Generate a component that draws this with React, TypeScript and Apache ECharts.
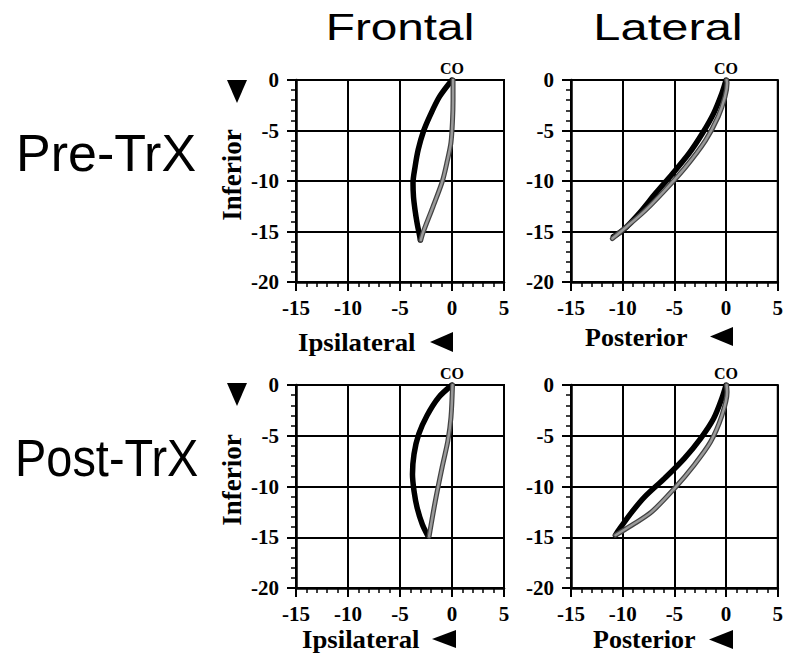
import React, { useEffect, useRef } from "react";
import * as echarts from "echarts";

// ---- Data ----
const xRange = [-15, 5];
const yRange = [-20, 0];
const tickStep = 5;

const preFrontalBlack = [[0, 0], [-1.2, -1.65], [-2.1, -3.5], [-2.75, -5.1], [-3.25, -6.9], [-3.55, -8.6], [-3.75, -10.2], [-3.7, -11.6], [-3.55, -12.9], [-3.35, -14.2], [-3.1, -15.5], [-3.05, -15.85]];
const preFrontalGrey = [[-3.0, -15.85], [-2.75, -15.0], [-1.85, -12.6], [-0.92, -10.0], [-0.45, -8.0], [-0.1, -6.2], [0.05, -4.0], [0.1, -2.0], [0.1, 0]];

const preLateralBlack = [[0, 0], [-0.4, -1.3], [-1.2, -3.3], [-2.3, -5.3], [-3.6, -7.3], [-5.2, -9.3], [-6.8, -11.2], [-8.4, -13.2], [-9.9, -14.8], [-10.9, -15.5]];
const preLateralGrey = [[-11.0, -15.7], [-9.7, -14.6], [-7.8, -12.9], [-5.9, -10.9], [-3.9, -8.6], [-2.0, -6.0], [-0.75, -3.6], [-0.1, -1.65], [0.1, -0.3], [0.05, 0]];

const postFrontalBlack = [[0, 0], [-1.27, -1.2], [-2.4, -3.0], [-3.2, -4.85], [-3.65, -6.8], [-3.8, -8.8], [-3.65, -10.45], [-3.35, -12.1], [-2.85, -13.75], [-2.3, -14.9]];
const postFrontalGrey = [[-2.2, -14.9], [-1.6, -11.4], [-0.95, -8.1], [-0.4, -5.5], [-0.1, -3.2], [0.05, 0]];

const postLateralBlack = [[0, 0], [-0.4, -1.3], [-1.2, -3.3], [-2.45, -5.25], [-4.05, -7.25], [-5.95, -9.2], [-7.85, -11.0], [-9.1, -12.5], [-10.25, -14.1], [-10.7, -14.8]];
const postLateralGrey = [[-10.7, -14.8], [-9.1, -13.8], [-7.2, -12.5], [-5.0, -10.2], [-3.1, -7.9], [-1.5, -5.6], [-0.4, -3.0], [0.1, -0.7], [0.05, 0]];

const originPoint = [[0, 0]];
const originLabel = "CO";

const columnTitles = ["Frontal", "Lateral"];
const rowTitles = ["Pre-TrX", "Post-TrX"];
const yName = "Inferior";
const xNames = ["Ipsilateral", "Posterior"];

const panels = [
  { black: preFrontalBlack, grey: preFrontalGrey },
  { black: preLateralBlack, grey: preLateralGrey },
  { black: postFrontalBlack, grey: postFrontalGrey },
  { black: postLateralBlack, grey: postLateralGrey },
];

// ---- Layout ----
const gridBoxes = [
  { left: 296, top: 80, width: 208, height: 202 },
  { left: 571, top: 80, width: 208, height: 202 },
  { left: 296, top: 385, width: 208, height: 203 },
  { left: 571, top: 385, width: 208, height: 203 },
];

const serif = "Liberation Serif";
const sans = "Liberation Sans";

function axisCommon(labelMargin: number) {
  return {
    type: "value" as const,
    interval: tickStep,
    axisLine: { show: true, onZero: false, lineStyle: { color: "#000", width: 2.5 } },
    axisTick: { show: true, inside: false, length: 9, lineStyle: { color: "#000", width: 2 } },
    minorTick: { show: true, splitNumber: 5, length: 5, lineStyle: { color: "#000", width: 1.5 } },
    splitLine: { show: true, lineStyle: { color: "#000", width: 2 } },
    minorSplitLine: { show: false },
    axisLabel: {
      color: "#000",
      fontFamily: serif,
      fontWeight: "bold" as const,
      fontSize: 21,
      lineHeight: 21,
      margin: labelMargin,
    },
  };
}

function textEl(text: string, x: number, y: number, font: any, extra: any = {}) {
  return {
    type: "text",
    x,
    y,
    ...extra,
    style: {
      text,
      fill: "#000",
      align: font.align || "left",
      textAlign: font.align || "left",
      verticalAlign: "middle",
      textVerticalAlign: "middle",
      fontFamily: font.family,
      fontSize: font.size,
      lineHeight: font.size,
      fontWeight: font.weight || "normal",
    },
  };
}

function tri(points: number[][]) {
  return { type: "polygon", shape: { points }, style: { fill: "#000" } };
}

export default function App() {
  const ref = useRef<HTMLDivElement>(null);

  useEffect(() => {
    if (!ref.current) return;
    const chart = echarts.init(ref.current, null, { renderer: "svg" });

    const series: any[] = [];
    panels.forEach((p, i) => {
      series.push({
        type: "line",
        xAxisIndex: i,
        yAxisIndex: i,
        data: p.black,
        smooth: 0.3,
        showSymbol: false,
        symbol: "none",
        lineStyle: { color: "#000", width: 5.5, cap: "round", join: "round" },
        z: 3,
      });
      series.push({
        type: "line",
        xAxisIndex: i,
        yAxisIndex: i,
        data: p.grey,
        smooth: 0.3,
        showSymbol: false,
        symbol: "none",
        lineStyle: { color: "#444", width: 5, cap: "round", join: "round" },
        z: 4,
      });
      series.push({
        type: "line",
        xAxisIndex: i,
        yAxisIndex: i,
        data: p.grey,
        smooth: 0.3,
        showSymbol: false,
        symbol: "none",
        lineStyle: { color: "#9a9a9a", width: 2.5, cap: "round", join: "round" },
        z: 5,
      });
      series.push({
        type: "scatter",
        xAxisIndex: i,
        yAxisIndex: i,
        data: originPoint,
        symbolSize: 1,
        itemStyle: { opacity: 0 },
        label: {
          show: true,
          position: "top",
          distance: 3,
          formatter: originLabel,
          color: "#000",
          opacity: 1,
          fontFamily: serif,
          fontWeight: "bold",
          fontSize: 16,
        },
        z: 6,
      });
    });

    const titleFont = { family: sans, size: 37, align: "center" };
    const rowFont = { family: sans, size: 52, align: "left" };
    const nameFont = { family: serif, size: 26, weight: "bold", align: "left" };
    const yNameFont = { family: serif, size: 27, weight: "bold", align: "center" };

    const graphic: any[] = [
      textEl(columnTitles[0], 400, 27, titleFont, { scaleX: 1.29 }),
      textEl(columnTitles[1], 668, 27, titleFont, { scaleX: 1.32 }),
      textEl(rowTitles[0], 16, 153, rowFont, {}),
      textEl(rowTitles[1], 15, 458, { ...rowFont, size: 51 }, { scaleX: 0.92 }),
      textEl(yName, 232, 175, yNameFont, { rotation: Math.PI / 2 }),
      textEl(yName, 232, 480, yNameFont, { rotation: Math.PI / 2 }),
      tri([[227, 80], [247, 80], [237, 103]]),
      tri([[227, 383], [247, 383], [237, 406]]),
      textEl(xNames[0], 298, 342, nameFont, { scaleX: 1.03 }),
      tri([[453, 332], [453, 352], [430, 342]]),
      textEl(xNames[0], 302, 639, nameFont, { scaleX: 1.03 }),
      tri([[456, 630], [456, 648], [432, 639]]),
      textEl(xNames[1], 585, 337, nameFont),
      tri([[733, 327], [733, 346], [710, 336.5]]),
      textEl(xNames[1], 593, 639, nameFont),
      tri([[733, 630], [733, 649], [709, 639.5]]),
    ];

    chart.setOption({
      animation: false,
      backgroundColor: "#fff",
      grid: gridBoxes.map((g) => ({
        ...g,
        show: true,
        borderColor: "#000",
        borderWidth: 2,
        backgroundColor: "transparent",
        containLabel: false,
      })),
      xAxis: gridBoxes.map((_, i) => ({
        ...axisCommon(15),
        gridIndex: i,
        min: xRange[0],
        max: xRange[1],
        position: "bottom",
      })),
      yAxis: gridBoxes.map((_, i) => ({
        ...axisCommon(17),
        gridIndex: i,
        min: yRange[0],
        max: yRange[1],
        position: "left",
      })),
      series,
      graphic,
    });

    return () => chart.dispose();
  }, []);

  return (
    <div
      ref={ref}
      style={{ position: "absolute", left: 0, top: 0, width: 786, height: 653 }}
    />
  );
}
